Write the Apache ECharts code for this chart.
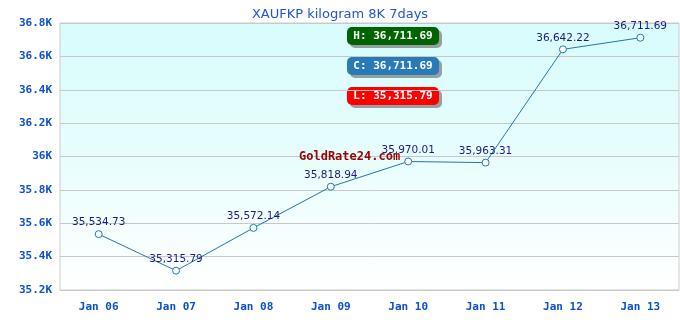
<!DOCTYPE html>
<html>
<head>
<meta charset="utf-8">
<script src="https://cdn.jsdelivr.net/npm/echarts@6/dist/echarts.min.js"></script>
<style>html,body{margin:0;padding:0;background:#fff}#c{width:680px;height:320px}</style>
</head>
<body>
<div id="c"></div>
<script>
var categories = ['Jan 06','Jan 07','Jan 08','Jan 09','Jan 10','Jan 11','Jan 12','Jan 13'];
var prices = [35534.73, 35315.79, 35572.14, 35818.94, 35970.01, 35963.31, 36642.22, 36711.69];
var highText = 'H: 36,711.69';
var closeText = 'C: 36,711.69';
var lowText = 'L: 35,315.79';
var titleText = 'XAUFKP kilogram 8K 7days';
var watermark = 'GoldRate24.com';

var chart = echarts.init(document.getElementById('c'));
function fmt(v){return v.toLocaleString('en-US',{minimumFractionDigits:2,maximumFractionDigits:2});}
function box(y, color, text){
  return {
    type:'group', left:347, top:y, children:[
      {type:'rect', shape:{x:0,y:0,width:92,height:18,r:5}, style:{fill:color, shadowColor:'rgba(120,120,120,0.7)', shadowOffsetX:3, shadowOffsetY:3, shadowBlur:0}},
      {type:'text', x:46, y:9.5, style:{text:text, fill:'#fff', font:'bold 11px "DejaVu Sans Mono"', textAlign:'center', textVerticalAlign:'middle'}}
    ]
  };
}
chart.setOption({
  animation:false,
  title:{text:titleText, left:'center', top:3, textStyle:{color:'#2255cc', fontSize:13, fontWeight:'normal', fontFamily:'DejaVu Sans'}},
  grid:{left:60, right:1, top:23, bottom:30, show:true, borderColor:'#cccccc', borderWidth:1,
    backgroundColor:{type:'linear',x:0,y:0,x2:0,y2:1,colorStops:[{offset:0,color:'#d8fcfc'},{offset:0.4,color:'#e4fdfd'},{offset:1,color:'#ffffff'}]}},
  xAxis:{type:'category', data:categories, boundaryGap:true,
    axisLine:{show:false}, axisTick:{show:false}, splitLine:{show:false},
    axisLabel:{color:'#0a4fcc', fontWeight:'bold', fontSize:11, fontFamily:'DejaVu Sans Mono', margin:12}},
  yAxis:{type:'value', min:35200, max:36800, interval:200,
    axisLine:{show:false}, axisTick:{show:false},
    splitLine:{lineStyle:{color:'#c8c8c8', width:1}},
    axisLabel:{color:'#0a4fcc', fontWeight:'bold', fontSize:11, fontFamily:'DejaVu Sans Mono', margin:8,
      formatter:function(v){return (v/1000)+'K';}}},
  series:[{type:'line', data:prices, symbol:'circle', symbolSize:7,
    lineStyle:{color:'#1f77b4', width:1},
    itemStyle:{color:'#ffffff', borderColor:'#1f77b4', borderWidth:1},
    label:{show:true, position:'top', distance:2, color:'#1a1a80', fontSize:10.5, fontFamily:'DejaVu Sans',
      formatter:function(p){return fmt(p.value);}}}],
  graphic:[
    box(27,'#006400',highText),
    box(57,'#2a7ab8',closeText),
    box(87,'#ff0000',lowText),
    {type:'text', left:299, top:151, z:100, style:{text:watermark, fill:'#990000', font:'bold 12px "DejaVu Sans Mono"'}}
  ]
});
</script>
</body>
</html>
